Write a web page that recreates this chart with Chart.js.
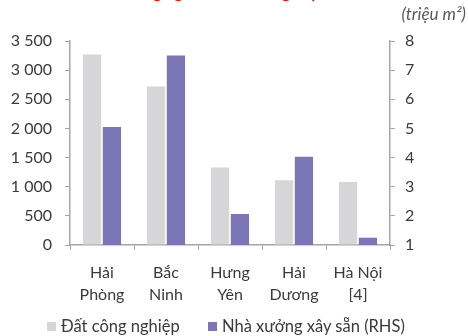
<!DOCTYPE html>
<html>
<head>
<meta charset="utf-8">
<script src="https://cdn.jsdelivr.net/npm/chart.js@4.4.1/dist/chart.umd.min.js"></script>
<style>
  html, body { margin: 0; padding: 0; background: #ffffff; }
  #wrap { position: relative; width: 468px; height: 336px; overflow: hidden; }
  canvas { display: block; }
  .legend-item { position: absolute; top: 316px; height: 20px; display: flex; align-items: center;
                 font: 16.5px Lato, 'Open Sans', sans-serif; color: #3a3a3a; white-space: nowrap; }
  .legend-box { width: 9px; height: 9px; margin-right: 5px; }
</style>
</head>
<body>
<div id="wrap">
  <canvas id="chart" width="468" height="336"></canvas>
  <div id="legend"></div>
</div>
<script>
// Provinces (two-line labels)
const categories = [
  ["Hải", "Phòng"],
  ["Bắc", "Ninh"],
  ["Hưng", "Yên"],
  ["Hải", "Dương"],
  ["Hà Nội", "[4]"]
];
// Industrial land (left axis)
const industrialLand = [3270, 2720, 1330, 1110, 1080];
// Ready-built factories, million m² (right axis)
const readyBuiltFactories = [5.05, 7.5, 2.06, 4.03, 1.25];

const seriesNames = ["Đất công nghiệp", "Nhà xưởng xây sẵn (RHS)"];
const seriesColors = ["#d6d6d8", "#7d76b6"];
const leftTicks = [0, 500, 1000, 1500, 2000, 2500, 3000, 3500];
const rightTicks = [1, 2, 3, 4, 5, 6, 7, 8];
const titleText = "Tổng nguồn nhà xưởng xây sẵn";
const unitText = "(triệu m²)";

const FONT = "Lato, 'Open Sans', sans-serif";
const TEXT = "#3a3a3a";
const AXIS = "#a6a6a6";

function spaced(v) {
  return String(v).replace(/\B(?=(\d{3})+(?!\d))/g, " ");
}

// Red heading (runs off the top edge) and unit caption
const annotations = {
  id: "annotations",
  afterDraw(chart) {
    const ctx = chart.ctx;
    ctx.save();
    ctx.fillStyle = "#ff0000";
    ctx.font = "bold 16px " + FONT;
    ctx.textAlign = "left";
    ctx.textBaseline = "alphabetic";
    // place the heading so that "xưởng" sits above the Hưng Yên / Hải Dương gap
    const lead = ctx.measureText("Tổng nguồn nhà xưởn").width + ctx.measureText("g").width / 2;
    ctx.fillText(titleText, 286 - lead, -1.8);
    ctx.fillStyle = "#595959";
    ctx.font = "italic 17px " + FONT;
    ctx.textAlign = "right";
    ctx.textBaseline = "middle";
    ctx.fillText(unitText, 466, 15);
    ctx.restore();
  }
};

const chart = new Chart(document.getElementById("chart"), {
  type: "bar",
  data: {
    labels: categories,
    datasets: [
      {
        label: seriesNames[0],
        data: industrialLand,
        backgroundColor: seriesColors[0],
        yAxisID: "y",
        categoryPercentage: 0.62,
        barPercentage: 0.92
      },
      {
        label: seriesNames[1],
        data: readyBuiltFactories,
        backgroundColor: seriesColors[1],
        yAxisID: "y2",
        categoryPercentage: 0.62,
        barPercentage: 0.92
      }
    ]
  },
  options: {
    responsive: false,
    animation: false,
    layout: { padding: { top: 41, left: 0, right: 0, bottom: 0 } },
    plugins: {
      title: { display: false },
      tooltip: { enabled: false },
      legend: { display: false }
    },
    scales: {
      x: {
        offset: true,
        grid: {
          offset: true,
          drawOnChartArea: false,
          drawTicks: true,
          tickLength: 5,
          color: AXIS
        },
        border: { color: AXIS, width: 1.5 },
        ticks: {
          font: { family: FONT, size: 16, lineHeight: 1.375 },
          color: TEXT,
          padding: 12,
          maxRotation: 0,
          autoSkip: false
        },
        afterFit(scale) { scale.height = 91; }
      },
      y: {
        position: "left",
        min: 0,
        max: 3500,
        afterBuildTicks(scale) { scale.ticks = leftTicks.map(v => ({ value: v })); },
        grid: { drawOnChartArea: false, tickLength: 5, color: AXIS },
        border: { color: AXIS, width: 1.5 },
        ticks: {
          font: { family: FONT, size: 16 },
          color: TEXT,
          padding: 13,
          callback: v => spaced(v)
        },
        afterFit(scale) { scale.width = 70; }
      },
      y2: {
        position: "right",
        min: 1,
        max: 8,
        afterBuildTicks(scale) { scale.ticks = rightTicks.map(v => ({ value: v })); },
        grid: { drawOnChartArea: false, tickLength: 5, color: AXIS },
        border: { color: AXIS, width: 1.5 },
        ticks: {
          font: { family: FONT, size: 16 },
          color: TEXT,
          padding: 10
        },
        afterFit(scale) { scale.width = 78; }
      }
    }
  },
  plugins: [annotations]
});

// Legend built from the chart's datasets
const legendLefts = [47, 208];
const legend = document.getElementById("legend");
chart.data.datasets.forEach((ds, i) => {
  const item = document.createElement("div");
  item.className = "legend-item";
  item.style.left = legendLefts[i] + "px";
  const box = document.createElement("span");
  box.className = "legend-box";
  box.style.background = ds.backgroundColor;
  const label = document.createElement("span");
  label.textContent = ds.label;
  item.appendChild(box);
  item.appendChild(label);
  legend.appendChild(item);
});
</script>
</body>
</html>
